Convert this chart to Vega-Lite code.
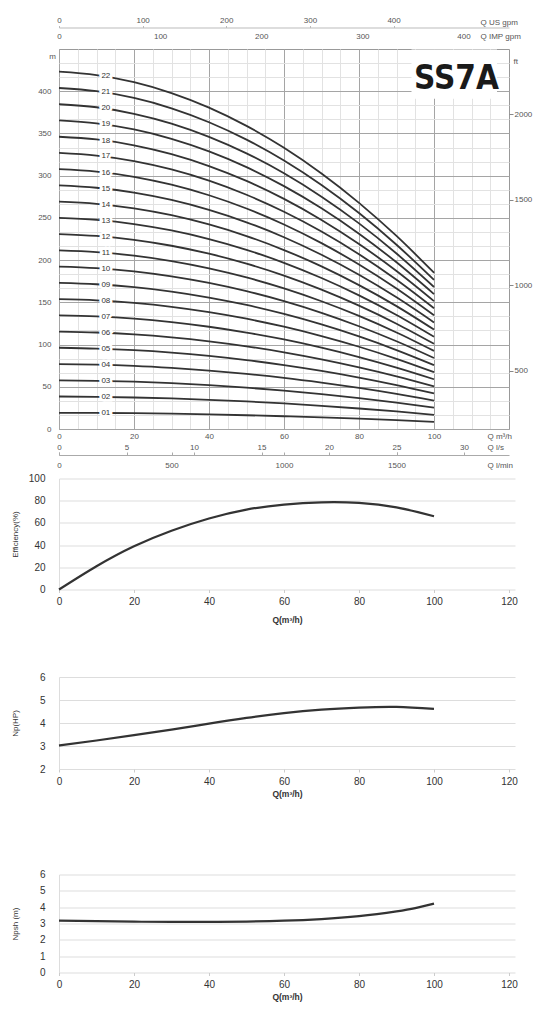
{
  "$schema": "https://vega.github.io/schema/vega-lite/v6.json",
  "background": "white",
  "padding": {"left": 11, "top": 16, "right": 2, "bottom": 2},
  "spacing": 3.5,
  "config": {
    "view": {"stroke": null},
    "font": "Liberation Sans",
    "axis": {
      "labelFlush": false,
      "labelOverlap": false,
      "labelBound": false,
      "labelFont": "Liberation Sans",
      "labelFontSize": 8,
      "labelColor": "#555",
      "titleFont": "Liberation Sans",
      "titleFontSize": 8,
      "titleColor": "#555",
      "titleFontWeight": "normal"
    }
  },
  "datasets": {
    "curves": [
      {"s":"01","q":0,"h":19.2},{"s":"01","q":10,"h":19.0},{"s":"01","q":20,"h":18.7},{"s":"01","q":30,"h":18.1},{"s":"01","q":40,"h":17.3},{"s":"01","q":50,"h":16.3},{"s":"01","q":60,"h":15.1},{"s":"01","q":70,"h":13.8},{"s":"01","q":80,"h":12.2},{"s":"01","q":90,"h":10.4},{"s":"01","q":100,"h":8.4},
      {"s":"02","q":0,"h":38.5},{"s":"02","q":10,"h":38.1},{"s":"02","q":20,"h":37.3},{"s":"02","q":30,"h":36.2},{"s":"02","q":40,"h":34.6},{"s":"02","q":50,"h":32.6},{"s":"02","q":60,"h":30.3},{"s":"02","q":70,"h":27.5},{"s":"02","q":80,"h":24.3},{"s":"02","q":90,"h":20.8},{"s":"02","q":100,"h":16.8},
      {"s":"03","q":0,"h":57.7},{"s":"03","q":10,"h":57.1},{"s":"03","q":20,"h":56.0},{"s":"03","q":30,"h":54.3},{"s":"03","q":40,"h":51.9},{"s":"03","q":50,"h":49.0},{"s":"03","q":60,"h":45.4},{"s":"03","q":70,"h":41.3},{"s":"03","q":80,"h":36.5},{"s":"03","q":90,"h":31.2},{"s":"03","q":100,"h":25.2},
      {"s":"04","q":0,"h":76.9},{"s":"04","q":10,"h":76.2},{"s":"04","q":20,"h":74.7},{"s":"04","q":30,"h":72.3},{"s":"04","q":40,"h":69.2},{"s":"04","q":50,"h":65.3},{"s":"04","q":60,"h":60.6},{"s":"04","q":70,"h":55.0},{"s":"04","q":80,"h":48.7},{"s":"04","q":90,"h":41.6},{"s":"04","q":100,"h":33.6},
      {"s":"05","q":0,"h":96.2},{"s":"05","q":10,"h":95.2},{"s":"05","q":20,"h":93.3},{"s":"05","q":30,"h":90.4},{"s":"05","q":40,"h":86.5},{"s":"05","q":50,"h":81.6},{"s":"05","q":60,"h":75.7},{"s":"05","q":70,"h":68.8},{"s":"05","q":80,"h":60.9},{"s":"05","q":90,"h":52.0},{"s":"05","q":100,"h":42.1},
      {"s":"06","q":0,"h":115.4},{"s":"06","q":10,"h":114.3},{"s":"06","q":20,"h":112.0},{"s":"06","q":30,"h":108.5},{"s":"06","q":40,"h":103.8},{"s":"06","q":50,"h":97.9},{"s":"06","q":60,"h":90.8},{"s":"06","q":70,"h":82.5},{"s":"06","q":80,"h":73.0},{"s":"06","q":90,"h":62.4},{"s":"06","q":100,"h":50.5},
      {"s":"07","q":0,"h":134.6},{"s":"07","q":10,"h":133.3},{"s":"07","q":20,"h":130.7},{"s":"07","q":30,"h":126.6},{"s":"07","q":40,"h":121.1},{"s":"07","q":50,"h":114.2},{"s":"07","q":60,"h":106.0},{"s":"07","q":70,"h":96.3},{"s":"07","q":80,"h":85.2},{"s":"07","q":90,"h":72.7},{"s":"07","q":100,"h":58.9},
      {"s":"08","q":0,"h":153.8},{"s":"08","q":10,"h":152.4},{"s":"08","q":20,"h":149.3},{"s":"08","q":30,"h":144.7},{"s":"08","q":40,"h":138.4},{"s":"08","q":50,"h":130.6},{"s":"08","q":60,"h":121.1},{"s":"08","q":70,"h":110.0},{"s":"08","q":80,"h":97.4},{"s":"08","q":90,"h":83.1},{"s":"08","q":100,"h":67.3},
      {"s":"09","q":0,"h":173.1},{"s":"09","q":10,"h":171.4},{"s":"09","q":20,"h":168.0},{"s":"09","q":30,"h":162.8},{"s":"09","q":40,"h":155.7},{"s":"09","q":50,"h":146.9},{"s":"09","q":60,"h":136.2},{"s":"09","q":70,"h":123.8},{"s":"09","q":80,"h":109.6},{"s":"09","q":90,"h":93.5},{"s":"09","q":100,"h":75.7},
      {"s":"10","q":0,"h":192.3},{"s":"10","q":10,"h":190.5},{"s":"10","q":20,"h":186.7},{"s":"10","q":30,"h":180.8},{"s":"10","q":40,"h":173.0},{"s":"10","q":50,"h":163.2},{"s":"10","q":60,"h":151.4},{"s":"10","q":70,"h":137.6},{"s":"10","q":80,"h":121.7},{"s":"10","q":90,"h":103.9},{"s":"10","q":100,"h":84.1},
      {"s":"11","q":0,"h":211.5},{"s":"11","q":10,"h":209.5},{"s":"11","q":20,"h":205.3},{"s":"11","q":30,"h":198.9},{"s":"11","q":40,"h":190.3},{"s":"11","q":50,"h":179.5},{"s":"11","q":60,"h":166.5},{"s":"11","q":70,"h":151.3},{"s":"11","q":80,"h":133.9},{"s":"11","q":90,"h":114.3},{"s":"11","q":100,"h":92.5},
      {"s":"12","q":0,"h":230.8},{"s":"12","q":10,"h":228.6},{"s":"12","q":20,"h":224.0},{"s":"12","q":30,"h":217.0},{"s":"12","q":40,"h":207.6},{"s":"12","q":50,"h":195.8},{"s":"12","q":60,"h":181.7},{"s":"12","q":70,"h":165.1},{"s":"12","q":80,"h":146.1},{"s":"12","q":90,"h":124.7},{"s":"12","q":100,"h":100.9},
      {"s":"13","q":0,"h":250.0},{"s":"13","q":10,"h":247.6},{"s":"13","q":20,"h":242.7},{"s":"13","q":30,"h":235.1},{"s":"13","q":40,"h":224.9},{"s":"13","q":50,"h":212.2},{"s":"13","q":60,"h":196.8},{"s":"13","q":70,"h":178.8},{"s":"13","q":80,"h":158.3},{"s":"13","q":90,"h":135.1},{"s":"13","q":100,"h":109.3},
      {"s":"14","q":0,"h":269.2},{"s":"14","q":10,"h":266.7},{"s":"14","q":20,"h":261.3},{"s":"14","q":30,"h":253.2},{"s":"14","q":40,"h":242.2},{"s":"14","q":50,"h":228.5},{"s":"14","q":60,"h":211.9},{"s":"14","q":70,"h":192.6},{"s":"14","q":80,"h":170.4},{"s":"14","q":90,"h":145.5},{"s":"14","q":100,"h":117.7},
      {"s":"15","q":0,"h":288.5},{"s":"15","q":10,"h":285.7},{"s":"15","q":20,"h":280.0},{"s":"15","q":30,"h":271.3},{"s":"15","q":40,"h":259.5},{"s":"15","q":50,"h":244.8},{"s":"15","q":60,"h":227.1},{"s":"15","q":70,"h":206.3},{"s":"15","q":80,"h":182.6},{"s":"15","q":90,"h":155.9},{"s":"15","q":100,"h":126.2},
      {"s":"16","q":0,"h":307.7},{"s":"16","q":10,"h":304.8},{"s":"16","q":20,"h":298.7},{"s":"16","q":30,"h":289.3},{"s":"16","q":40,"h":276.8},{"s":"16","q":50,"h":261.1},{"s":"16","q":60,"h":242.2},{"s":"16","q":70,"h":220.1},{"s":"16","q":80,"h":194.8},{"s":"16","q":90,"h":166.3},{"s":"16","q":100,"h":134.6},
      {"s":"17","q":0,"h":326.9},{"s":"17","q":10,"h":323.8},{"s":"17","q":20,"h":317.3},{"s":"17","q":30,"h":307.4},{"s":"17","q":40,"h":294.1},{"s":"17","q":50,"h":277.4},{"s":"17","q":60,"h":257.3},{"s":"17","q":70,"h":233.9},{"s":"17","q":80,"h":207.0},{"s":"17","q":90,"h":176.7},{"s":"17","q":100,"h":143.0},
      {"s":"18","q":0,"h":346.1},{"s":"18","q":10,"h":342.9},{"s":"18","q":20,"h":336.0},{"s":"18","q":30,"h":325.5},{"s":"18","q":40,"h":311.4},{"s":"18","q":50,"h":293.8},{"s":"18","q":60,"h":272.5},{"s":"18","q":70,"h":247.6},{"s":"18","q":80,"h":219.1},{"s":"18","q":90,"h":187.1},{"s":"18","q":100,"h":151.4},
      {"s":"19","q":0,"h":365.4},{"s":"19","q":10,"h":361.9},{"s":"19","q":20,"h":354.7},{"s":"19","q":30,"h":343.6},{"s":"19","q":40,"h":328.7},{"s":"19","q":50,"h":310.1},{"s":"19","q":60,"h":287.6},{"s":"19","q":70,"h":261.4},{"s":"19","q":80,"h":231.3},{"s":"19","q":90,"h":197.4},{"s":"19","q":100,"h":159.8},
      {"s":"20","q":0,"h":384.6},{"s":"20","q":10,"h":381.0},{"s":"20","q":20,"h":373.3},{"s":"20","q":30,"h":361.7},{"s":"20","q":40,"h":346.0},{"s":"20","q":50,"h":326.4},{"s":"20","q":60,"h":302.8},{"s":"20","q":70,"h":275.1},{"s":"20","q":80,"h":243.5},{"s":"20","q":90,"h":207.8},{"s":"20","q":100,"h":168.2},
      {"s":"21","q":0,"h":403.8},{"s":"21","q":10,"h":400.0},{"s":"21","q":20,"h":392.0},{"s":"21","q":30,"h":379.8},{"s":"21","q":40,"h":363.3},{"s":"21","q":50,"h":342.7},{"s":"21","q":60,"h":317.9},{"s":"21","q":70,"h":288.9},{"s":"21","q":80,"h":255.7},{"s":"21","q":90,"h":218.2},{"s":"21","q":100,"h":176.6},
      {"s":"22","q":0,"h":423.1},{"s":"22","q":10,"h":419.1},{"s":"22","q":20,"h":410.7},{"s":"22","q":30,"h":397.8},{"s":"22","q":40,"h":380.6},{"s":"22","q":50,"h":359.0},{"s":"22","q":60,"h":333.0},{"s":"22","q":70,"h":302.6},{"s":"22","q":80,"h":267.8},{"s":"22","q":90,"h":228.6},{"s":"22","q":100,"h":185.0}
    ],
    "labels": [
      {"s":"01","q":12.5,"h":19.0},{"s":"02","q":12.5,"h":38.0},{"s":"03","q":12.5,"h":56.9},{"s":"04","q":12.5,"h":75.9},
      {"s":"05","q":12.5,"h":94.9},{"s":"06","q":12.5,"h":113.9},{"s":"07","q":12.5,"h":132.9},{"s":"08","q":12.5,"h":151.8},
      {"s":"09","q":12.5,"h":170.8},{"s":"10","q":12.5,"h":189.8},{"s":"11","q":12.5,"h":208.8},{"s":"12","q":12.5,"h":227.8},
      {"s":"13","q":12.5,"h":246.7},{"s":"14","q":12.5,"h":265.7},{"s":"15","q":12.5,"h":284.7},{"s":"16","q":12.5,"h":303.7},
      {"s":"17","q":12.5,"h":322.7},{"s":"18","q":12.5,"h":341.6},{"s":"19","q":12.5,"h":360.6},{"s":"20","q":12.5,"h":379.6},
      {"s":"21","q":12.5,"h":398.6},{"s":"22","q":12.5,"h":417.6}
    ],
    "eff": [
      {"q":0,"e":0},{"q":10,"e":21},{"q":20,"e":39},{"q":30,"e":53},{"q":40,"e":64},{"q":50,"e":72},
      {"q":60,"e":76.5},{"q":70,"e":78.5},{"q":80,"e":78},{"q":90,"e":74},{"q":100,"e":66}
    ],
    "np": [
      {"q":0,"p":3.02},{"q":10,"p":3.24},{"q":20,"p":3.47},{"q":30,"p":3.71},{"q":40,"p":3.97},{"q":50,"p":4.22},
      {"q":60,"p":4.43},{"q":70,"p":4.58},{"q":80,"p":4.67},{"q":90,"p":4.70},{"q":100,"p":4.61}
    ],
    "npsh": [
      {"q":0,"n":3.18},{"q":10,"n":3.14},{"q":20,"n":3.11},{"q":30,"n":3.10},{"q":40,"n":3.10},{"q":50,"n":3.12},
      {"q":60,"n":3.17},{"q":70,"n":3.27},{"q":80,"n":3.45},{"q":90,"n":3.74},{"q":95,"n":3.94},{"q":100,"n":4.22}
    ],
    "one": [{"v": 0}]
  },
  "vconcat": [
    {
      "width": 450,
      "height": 380,
      "view": {"stroke": "#999"},
      "resolve": {
        "scale": {"x": "independent", "y": "independent"},
        "axis": {"x": "independent", "y": "independent"}
      },
      "layer": [
        {
          "data": {"name": "one"},
          "mark": {"type": "point", "opacity": 0},
          "encoding": {
            "x": {
              "field": "v", "type": "quantitative",
              "scale": {"domain": [0, 120], "nice": false, "zero": false},
              "axis": {"orient": "bottom", "values": [5,10,15,25,30,35,45,50,55,65,70,75,85,90,95,105,110,115], "grid": true, "gridColor": "#e2e2e2", "labels": false, "ticks": false, "domain": false, "title": null}
            },
            "y": {
              "field": "v", "type": "quantitative",
              "scale": {"domain": [0, 450], "nice": false, "zero": false},
              "axis": {"orient": "left", "values": [16.667,33.333,66.667,83.333,116.667,133.333,166.667,183.333,216.667,233.333,266.667,283.333,316.667,333.333,366.667,383.333,416.667,433.333], "grid": true, "gridColor": "#e2e2e2", "labels": false, "ticks": false, "domain": false, "title": null}
            }
          }
        },
        {
          "data": {"name": "curves"},
          "mark": {"type": "line", "interpolate": "monotone", "color": "#333", "strokeWidth": 1.8},
          "encoding": {
            "x": {
              "field": "q", "type": "quantitative",
              "scale": {"domain": [0, 120], "nice": false, "zero": false},
              "axis": {"orient": "bottom", "values": [0,20,40,60,80,100], "grid": true, "gridColor": "#a5a5a5", "ticks": false, "domain": false, "labelPadding": 3, "title": "Q m³/h", "titleAngle": 0, "titleAlign": "left", "titleBaseline": "middle", "titleX": 428, "titleY": 7}
            },
            "y": {
              "field": "h", "type": "quantitative",
              "scale": {"domain": [0, 450], "nice": false, "zero": false},
              "axis": {"orient": "left", "values": [0,50,100,150,200,250,300,350,400], "grid": true, "gridColor": "#a5a5a5", "ticks": false, "domain": false, "labelPadding": 8, "title": "m", "titleAngle": 0, "titleAlign": "center", "titleBaseline": "middle", "titleX": -7, "titleY": 7}
            },
            "detail": {"field": "s"}
          }
        },
        {
          "data": {"name": "labels"},
          "mark": {"type": "text", "fill": "white", "stroke": "white", "strokeWidth": 5, "fontSize": 8, "font": "Liberation Sans"},
          "encoding": {
            "x": {"field": "q", "type": "quantitative", "scale": {"domain": [0, 120], "nice": false, "zero": false}, "axis": null},
            "y": {"field": "h", "type": "quantitative", "scale": {"domain": [0, 450], "nice": false, "zero": false}, "axis": null},
            "text": {"field": "s"}
          }
        },
        {
          "data": {"name": "labels"},
          "mark": {"type": "text", "fill": "#333", "fontSize": 8, "font": "Liberation Sans"},
          "encoding": {
            "x": {"field": "q", "type": "quantitative", "scale": {"domain": [0, 120], "nice": false, "zero": false}, "axis": null},
            "y": {"field": "h", "type": "quantitative", "scale": {"domain": [0, 450], "nice": false, "zero": false}, "axis": null},
            "text": {"field": "s"}
          }
        },
        {
          "data": {"name": "one"},
          "mark": {"type": "rect", "color": "white"},
          "encoding": {
            "x": {"datum": 94, "type": "quantitative", "scale": {"domain": [0, 120], "nice": false, "zero": false}, "axis": null},
            "x2": {"datum": 116.8},
            "y": {"datum": 391, "type": "quantitative", "scale": {"domain": [0, 450], "nice": false, "zero": false}, "axis": null},
            "y2": {"datum": 449.3}
          }
        },
        {
          "data": {"name": "one"},
          "mark": {"type": "text", "text": "SS7A", "font": "DejaVu Sans Condensed", "fontWeight": "bold", "fontSize": 33, "color": "#1a1a1a", "baseline": "middle"},
          "encoding": {
            "x": {"datum": 106, "type": "quantitative", "scale": {"domain": [0, 120], "nice": false, "zero": false}, "axis": null},
            "y": {"datum": 414, "type": "quantitative", "scale": {"domain": [0, 450], "nice": false, "zero": false}, "axis": null}
          }
        },
        {
          "data": {"name": "one"},
          "mark": {"type": "point", "opacity": 0},
          "encoding": {
            "x": {
              "field": "v", "type": "quantitative",
              "scale": {"domain": [0, 33.333], "nice": false, "zero": false},
              "axis": {"orient": "top", "offset": -406, "values": [0,5,10,15,20,25,30], "grid": false, "domain": true, "domainColor": "#aaa", "ticks": true, "tickSize": 3, "tickColor": "#aaa", "labelPadding": 1, "title": "Q l/s", "titleAngle": 0, "titleAlign": "left", "titleBaseline": "middle", "titleX": 428, "titleY": -8}
            },
            "y": {
              "field": "v", "type": "quantitative",
              "scale": {"domain": [160, 2380], "nice": false, "zero": false},
              "axis": {"orient": "right", "values": [500,1000,1500,2000], "format": "d", "grid": false, "domain": false, "ticks": true, "tickSize": 4, "tickColor": "#888", "labelPadding": 1, "title": "ft", "titleAngle": 0, "titleAlign": "left", "titleBaseline": "middle", "titleX": 4, "titleY": 12}
            }
          }
        },
        {
          "data": {"name": "one"},
          "mark": {"type": "point", "opacity": 0},
          "encoding": {
            "x": {
              "field": "v", "type": "quantitative",
              "scale": {"domain": [0, 2000], "nice": false, "zero": false},
              "axis": {"orient": "top", "offset": -406, "values": [0,500,1000,1500], "grid": false, "domain": false, "ticks": true, "tickSize": 3, "tickColor": "#aaa", "labels": false, "title": null}
            },
            "y": {"field": "v", "type": "quantitative", "scale": {"domain": [0, 1]}, "axis": null}
          }
        },
        {
          "data": {"name": "one"},
          "mark": {"type": "point", "opacity": 0},
          "encoding": {
            "x": {
              "field": "v", "type": "quantitative",
              "scale": {"domain": [0, 2000], "nice": false, "zero": false},
              "axis": {"orient": "bottom", "offset": 30, "values": [0,500,1000,1500], "format": "d", "grid": false, "domain": false, "ticks": false, "labelPadding": 2, "title": "Q l/min", "titleAngle": 0, "titleAlign": "left", "titleBaseline": "middle", "titleX": 428, "titleY": 6}
            },
            "y": {"field": "v", "type": "quantitative", "scale": {"domain": [0, 1]}, "axis": null}
          }
        },
        {
          "data": {"name": "one"},
          "mark": {"type": "point", "opacity": 0},
          "encoding": {
            "x": {
              "field": "v", "type": "quantitative",
              "scale": {"domain": [0, 538], "nice": false, "zero": false},
              "axis": {"orient": "top", "offset": 21.5, "values": [0,100,200,300,400], "grid": false, "domain": true, "domainColor": "#bbb", "ticks": true, "tickSize": 2, "tickColor": "#bbb", "labelPadding": 1, "title": "Q US gpm", "titleAngle": 0, "titleAlign": "left", "titleBaseline": "middle", "titleX": 421, "titleY": -5}
            },
            "y": {"field": "v", "type": "quantitative", "scale": {"domain": [0, 1]}, "axis": null}
          }
        },
        {
          "data": {"name": "one"},
          "mark": {"type": "point", "opacity": 0},
          "encoding": {
            "x": {
              "field": "v", "type": "quantitative",
              "scale": {"domain": [0, 445], "nice": false, "zero": false},
              "axis": {"orient": "top", "offset": 0, "values": [0,100,200,300,400], "grid": false, "domain": false, "ticks": false, "labelPadding": 9, "title": "Q IMP gpm", "titleAngle": 0, "titleAlign": "left", "titleBaseline": "middle", "titleX": 421, "titleY": -13}
            },
            "y": {"field": "v", "type": "quantitative", "scale": {"domain": [0, 1]}, "axis": null}
          }
        }
      ]
    },
    {
      "width": 456,
      "height": 111,
      "resolve": {
        "scale": {"x": "independent", "y": "independent"},
        "axis": {"x": "independent", "y": "independent"}
      },
      "layer": [
        {
          "data": {"name": "eff"},
          "mark": {"type": "line", "interpolate": "natural", "color": "#333", "strokeWidth": 2.2},
          "encoding": {
            "x": {
              "field": "q", "type": "quantitative",
              "scale": {"domain": [0, 121.6], "nice": false, "zero": false},
              "axis": {"orient": "bottom", "values": [0,20,40,60,80,100,120], "grid": false, "domain": false, "ticks": true, "tickSize": 3, "tickColor": "#ccc", "labelFontSize": 10, "labelColor": "#333", "labelPadding": 4, "title": "Q(m³/h)", "titleFontSize": 8.5, "titleFontWeight": "bold", "titleColor": "#333", "titlePadding": 9}
            },
            "y": {
              "field": "e", "type": "quantitative",
              "scale": {"domain": [0, 100], "nice": false},
              "axis": {"orient": "left", "values": [0,20,40,60,80,100], "grid": true, "gridColor": "#ddd", "domain": true, "domainColor": "#ddd", "ticks": false, "labelFontSize": 10, "labelColor": "#333", "labelPadding": 14, "title": "Efficiency(%)", "titleFontSize": 8, "titleColor": "#333", "titlePadding": 9}
            }
          }
        },
        {
          "data": {"name": "one"},
          "mark": {"type": "point", "opacity": 0},
          "encoding": {
            "x": {
              "field": "v", "type": "quantitative",
              "scale": {"domain": [0, 1]},
              "axis": {"orient": "bottom", "offset": 78.3, "domain": true, "domainColor": "transparent", "labels": false, "ticks": false, "grid": false, "title": null}
            },
            "y": {"field": "v", "type": "quantitative", "scale": {"domain": [0, 1]}, "axis": null}
          }
        }
      ]
    },
    {
      "width": 456,
      "height": 92,
      "resolve": {
        "scale": {"x": "independent", "y": "independent"},
        "axis": {"x": "independent", "y": "independent"}
      },
      "layer": [
        {
          "data": {"name": "np"},
          "mark": {"type": "line", "interpolate": "natural", "color": "#333", "strokeWidth": 2.2},
          "encoding": {
            "x": {
              "field": "q", "type": "quantitative",
              "scale": {"domain": [0, 121.6], "nice": false, "zero": false},
              "axis": {"orient": "bottom", "values": [0,20,40,60,80,100,120], "grid": false, "domain": false, "ticks": true, "tickSize": 3, "tickColor": "#ccc", "labelFontSize": 10, "labelColor": "#333", "labelPadding": 4, "title": "Q(m³/h)", "titleFontSize": 8.5, "titleFontWeight": "bold", "titleColor": "#333", "titlePadding": 3}
            },
            "y": {
              "field": "p", "type": "quantitative",
              "scale": {"domain": [2, 6], "nice": false, "zero": false},
              "axis": {"orient": "left", "values": [2,3,4,5,6], "grid": true, "gridColor": "#ddd", "domain": true, "domainColor": "#ddd", "ticks": false, "labelFontSize": 10, "labelColor": "#333", "labelPadding": 14, "title": "Np(HP)", "titleFontSize": 8, "titleColor": "#333", "titlePadding": 20}
            }
          }
        },
        {
          "data": {"name": "one"},
          "mark": {"type": "point", "opacity": 0},
          "encoding": {
            "x": {
              "field": "v", "type": "quantitative",
              "scale": {"domain": [0, 1]},
              "axis": {"orient": "bottom", "offset": 97, "domain": true, "domainColor": "transparent", "labels": false, "ticks": false, "grid": false, "title": null}
            },
            "y": {"field": "v", "type": "quantitative", "scale": {"domain": [0, 1]}, "axis": null}
          }
        }
      ]
    },
    {
      "width": 456,
      "height": 98,
      "data": {"name": "npsh"},
      "mark": {"type": "line", "interpolate": "natural", "color": "#333", "strokeWidth": 2.2},
      "encoding": {
        "x": {
          "field": "q", "type": "quantitative",
          "scale": {"domain": [0, 121.6], "nice": false, "zero": false},
          "axis": {"values": [0,20,40,60,80,100,120], "grid": false, "domain": false, "ticks": true, "tickSize": 3, "tickColor": "#ccc", "labelFontSize": 10, "labelColor": "#333", "labelPadding": 4, "title": "Q(m³/h)", "titleFontSize": 8.5, "titleFontWeight": "bold", "titleColor": "#333", "titlePadding": 3}
        },
        "y": {
          "field": "n", "type": "quantitative",
          "scale": {"domain": [0, 6], "nice": false, "zero": false},
          "axis": {"values": [0,1,2,3,4,5,6], "grid": true, "gridColor": "#ddd", "domain": true, "domainColor": "#ddd", "ticks": false, "labelFontSize": 10, "labelColor": "#333", "labelPadding": 14, "title": "Npsh (m)", "titleFontSize": 8, "titleColor": "#333", "titlePadding": 20}
        }
      }
    }
  ]
}
